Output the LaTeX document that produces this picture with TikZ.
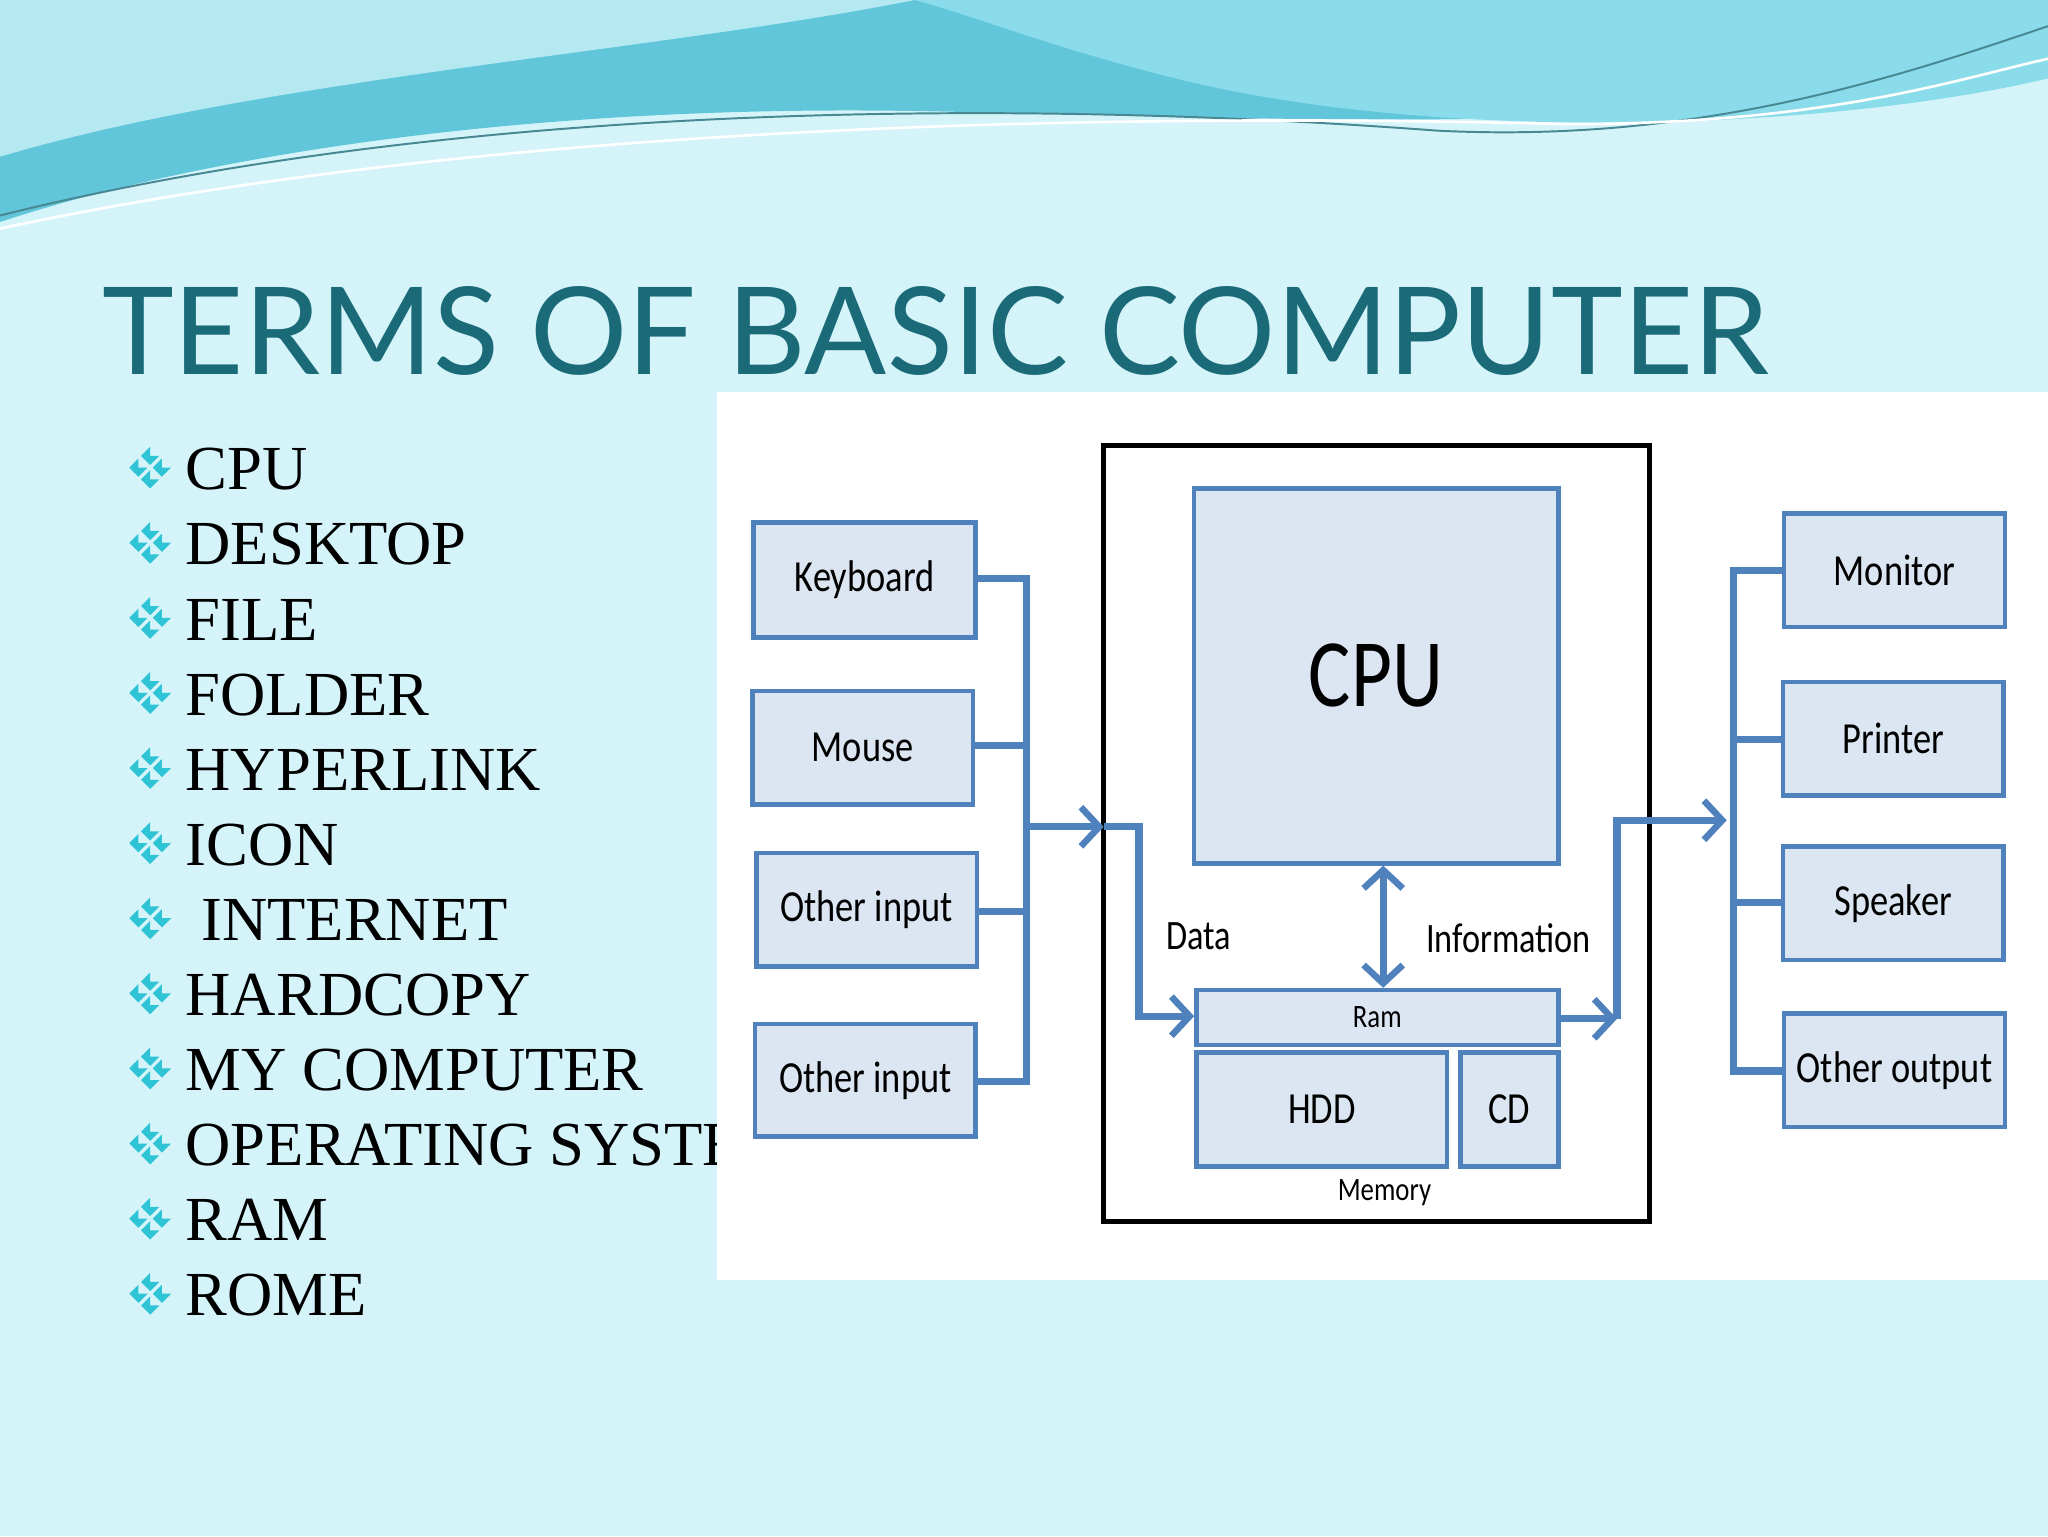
\documentclass[tikz,border=0pt]{standalone}
\usepackage{fontspec}
\setmainfont{Liberation Serif}
\newfontfamily\titlef{Lato}
\newfontfamily\diagf[FakeStretch=0.82]{Carlito}
\usetikzlibrary{arrows.meta}
\definecolor{bg}{HTML}{D4F4FA}
\definecolor{teal}{HTML}{1A6A78}
\definecolor{bst}{HTML}{4F81BD}
\definecolor{bfill}{HTML}{DCE6F2}
\definecolor{bul}{HTML}{2FC3D6}
\definecolor{wave1}{HTML}{62C6DA}
\definecolor{wave2}{HTML}{8ADCEB}
\definecolor{wave3}{HTML}{B5E9F2}
\begin{document}
\begin{tikzpicture}[x=1pt,y=-1pt,
 box/.style={draw=bst,line width=3.5pt,fill=bfill,font=\diagf\fontsize{34}{36}\selectfont},
 wire/.style={draw=bst,line width=5.5pt},
 tip/.tip={Straight Barb[length=14pt,width=30pt,line width=5pt]},
 arr/.style={wire,-tip},
 item/.style={anchor=base west,font=\fontsize{48}{56}\selectfont,inner sep=0pt},
 lab/.style={font=\diagf\fontsize{32}{34}\selectfont}]
\useasboundingbox (0,0) rectangle (1568,1176);
\fill[bg] (0,0) rectangle (1568,1176);
% top wave
\fill[wave1] (0,0) -- (1568,0) -- (1568,40) .. controls (1300,110) and (1000,90) .. (700,85) .. controls (400,80) and (150,120) .. (0,170) -- cycle;
\fill[wave2] (700,0) -- (1568,0) -- (1568,60) .. controls (1400,100) and (1100,110) .. (900,60) .. controls (800,35) and (740,10) .. (700,0) -- cycle;
\fill[wave3] (0,0) -- (700,0) .. controls (500,40) and (200,60) .. (0,120) -- cycle;
\draw[teal!80,line width=1.5pt] (0,165) .. controls (300,90) and (700,70) .. (1100,100) .. controls (1300,110) and (1450,60) .. (1568,20);
\draw[white,line width=2pt] (0,175) .. controls (350,100) and (800,85) .. (1200,95) .. controls (1400,95) and (1500,60) .. (1568,45);
% title
\node[anchor=base west,inner sep=0pt,text=teal,font=\titlef\fontsize{93}{100}\selectfont] (title) at (78,287) {TERMS OF BASIC COMPUTER};
% bullets
\foreach \t [count=\i] in {CPU,DESKTOP,FILE,FOLDER,HYPERLINK,ICON,{\ INTERNET},HARDCOPY,MY COMPUTER,OPERATING SYSTEM,RAM,ROME}{
 \pgfmathsetmacro\yy{358+57.5*(\i-1)}
 \node[item] (it\i) at (142,\yy+17) {\t};
 \foreach \dx/\dy in {0/-9,0/9,-9/0,9/0}
  \fill[bul] (115+\dx,\yy+\dy) -- ++(7,0) -- ++(-7,7) -- ++(-7,-7) -- ++(7,-7) -- cycle;
}
% white panel
\fill[white] (549,300) rectangle (1568,980);
\draw[black,line width=3.5pt] (845,341) rectangle (1263,935);
\node[box,minimum width=279pt,minimum height=287pt,font=\diagf\fontsize{74}{76}\selectfont] (cpu) at (1053.5,517.5) {CPU};
\node[box,minimum width=277pt,minimum height=42pt,font=\diagf\fontsize{25}{26}\selectfont] (ram) at (1054.5,779) {Ram};
\node[box,minimum width=192pt,minimum height=87pt] (hdd) at (1012,849.5) {HDD};
\node[box,minimum width=75pt,minimum height=87pt] (cd) at (1155.5,849.5) {CD};
\node[font=\diagf\fontsize{25}{26}\selectfont] (mem) at (1060,913) {Memory};
\node[lab] (data) at (918,717) {Data};
\node[lab] (info) at (1155,718) {Information};
% inputs
\node[box,minimum width=170pt,minimum height=88pt] (kb) at (662,444) {Keyboard};
\node[box,minimum width=169pt,minimum height=87pt] (ms) at (660.5,572.5) {Mouse};
\node[box,minimum width=169pt,minimum height=87pt] (oi1) at (663.5,696.5) {Other input};
\node[box,minimum width=169pt,minimum height=86pt] (oi2) at (662.5,827) {Other input};
% outputs
\node[box,minimum width=169pt,minimum height=87pt] (mon) at (1450.5,436.5) {Monitor};
\node[box,minimum width=169pt,minimum height=87pt] (pr) at (1449.5,565.5) {Printer};
\node[box,minimum width=169pt,minimum height=87pt] (sp) at (1449.5,691.5) {Speaker};
\node[box,minimum width=169pt,minimum height=87pt] (oo) at (1450.5,819.5) {Other output};
% input bus
\coordinate (ib1) at (786,443); \coordinate (ib2) at (786,828);
\draw[wire] (kb.east |- 0,443) -- (ib1) -- (ib2) -- (oi2.east |- 0,828);
\draw[wire] (ms.east |- 0,571) -- (786,571);
\draw[wire] (oi1.east |- 0,698) -- (786,698);
\coordinate (ia) at (786,633); \coordinate (ib) at (845,633);
\draw[arr] (ia) -- (ib);
\coordinate (ic) at (872,633); \coordinate (id) at (872,778);
\draw[arr] (ib) -- (ic) -- (id) -- (ram.west |- 0,778);
% cpu-ram
\draw[wire,tip-tip] (cpu.south -| 1059,0) -- (ram.north -| 1059,0);
% output
\coordinate (oa) at (1238,780); \coordinate (ob) at (1238,628); \coordinate (oc) at (1322,628);
\draw[arr] (ram.east |- 0,780) -- (oa);
\draw[arr] (oa) -- (ob) -- (oc);
\coordinate (ob1) at (1327,437); \coordinate (ob2) at (1327,820);
\draw[wire] (mon.west |- 0,437) -- (ob1) -- (ob2) -- (oo.west |- 0,820);
\draw[wire] (pr.west |- 0,566) -- (1327,566);
\draw[wire] (sp.west |- 0,691) -- (1327,691);
\end{tikzpicture}
\end{document}
